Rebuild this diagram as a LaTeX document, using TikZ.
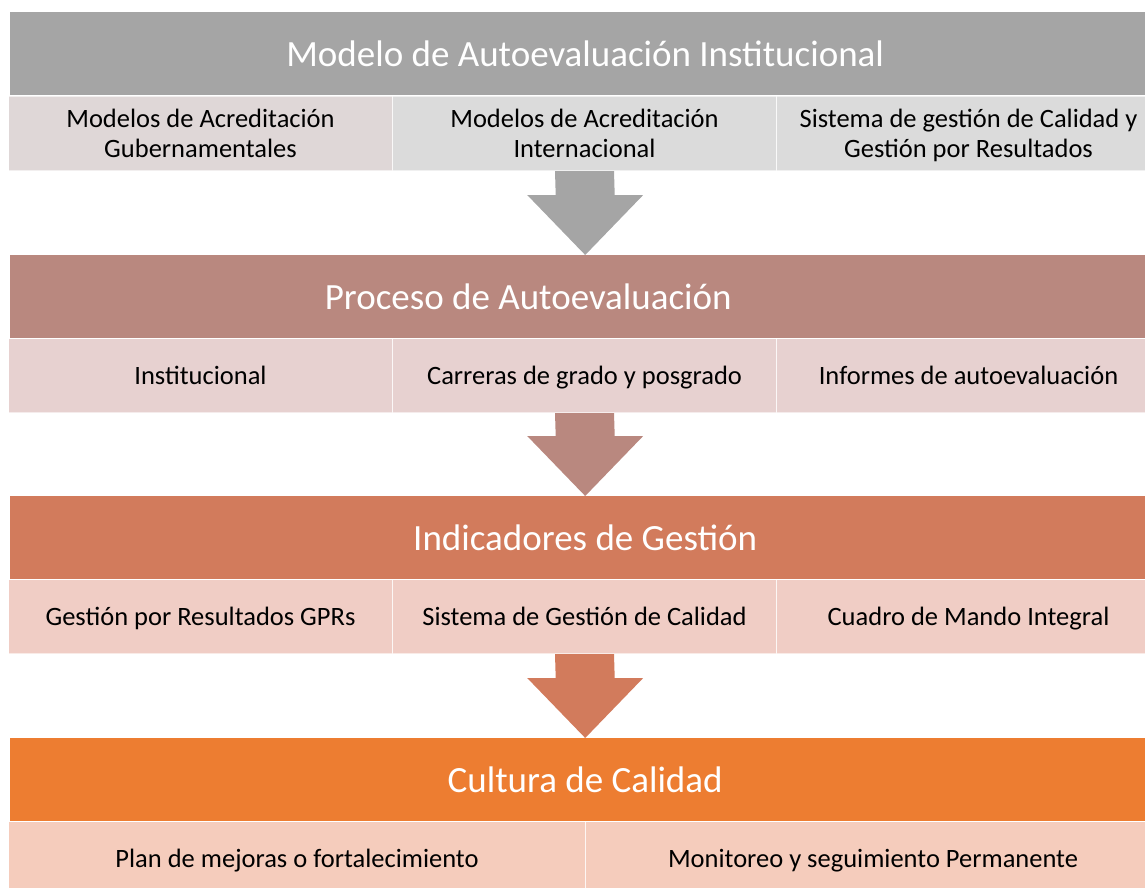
\documentclass[tikz,border=0pt]{standalone}
\usepackage{fontspec}
\setmainfont{Carlito}
\usetikzlibrary{calc}
\definecolor{grisA}{HTML}{A5A5A5}
\definecolor{grisB}{HTML}{DFD7D7}
\definecolor{grisC}{HTML}{DBDBDB}
\definecolor{rosaA}{HTML}{B9887F}
\definecolor{rosaB}{HTML}{E7D1D0}
\definecolor{tejaA}{HTML}{D27B5C}
\definecolor{tejaB}{HTML}{F0CDC5}
\definecolor{naranjaA}{HTML}{ED7D31}
\definecolor{naranjaB}{HTML}{F5CCBC}
\newcommand{\bajada}[3]{%
\fill[#3] ($(#1.south)+(-29.5,0)$) -- ($(#1.south)+(29.5,0)$) -- ($(#2.north)+(29.5,-60)$) -- ($(#2.north)+(58,-60)$) -- (#2.north) -- ($(#2.north)+(-58,-60)$) -- ($(#2.north)+(-29.5,-60)$) -- cycle;}
\newcommand{\alto}{\rule{0pt}{27pt}}

\begin{document}
\begin{tikzpicture}[x=1pt,y=-1pt,
  banda/.style={rectangle, inner sep=0pt, anchor=north west, minimum width=1150pt, minimum height=83pt, text=white, font=\fontsize{37}{44}\selectfont},
  celda/.style={rectangle, inner sep=0pt, anchor=north west, minimum height=74pt, draw=white, draw opacity=0.6, line width=1pt, align=center, font=\fontsize{26.5}{29.5}\selectfont, execute at begin node=\alto, execute at end node=\strut}]
\useasboundingbox (0,0) rectangle (1145,888);

\node[banda, fill=grisA] (modelo) at (10,12) {Modelo de Autoevaluación Institucional};
\node[celda, fill=grisB, minimum width=384pt] (gub) at (8,96) {\alto Modelos de Acreditación\\Gubernamentales};
\node[celda, fill=grisC, minimum width=384pt] (inter) at (392,96) {\alto Modelos de Acreditación\\Internacional};
\node[celda, fill=grisC, minimum width=384pt] (sgc) at (776,96) {\alto Sistema de gestión de Calidad y\\Gestión por Resultados};

\node[banda, fill=rosaA, label={[text=white, font=\fontsize{37}{44}\selectfont, xshift=-57pt]center:Proceso de Autoevaluación}] (proceso) at (10,255) {};
\node[celda, fill=rosaB, minimum width=384pt] (inst) at (8,338) {Institucional};
\node[celda, fill=rosaB, minimum width=384pt] (carr) at (392,338) {Carreras de grado y posgrado};
\node[celda, fill=rosaB, minimum width=384pt] (inf) at (776,338) {Informes de autoevaluación};

\node[banda, fill=tejaA] (indic) at (10,496) {Indicadores de Gestión};
\node[celda, fill=tejaB, minimum width=384pt] (gpr) at (8,579) {Gestión por Resultados GPRs};
\node[celda, fill=tejaB, minimum width=384pt] (sisg) at (392,579) {Sistema de Gestión de Calidad};
\node[celda, fill=tejaB, minimum width=384pt] (cmi) at (776,579) {Cuadro de Mando Integral};

\node[banda, fill=naranjaA] (cultura) at (10,738) {Cultura de Calidad};
\node[celda, fill=naranjaB, minimum width=577pt] (plan) at (8,821) {Plan de mejoras o fortalecimiento};
\node[celda, fill=naranjaB, minimum width=575pt] (monit) at (585,821) {Monitoreo y seguimiento Permanente};

\bajada{inter}{proceso}{grisA}
\bajada{carr}{indic}{rosaA}
\bajada{sisg}{cultura}{tejaA}
\end{tikzpicture}
\end{document}
